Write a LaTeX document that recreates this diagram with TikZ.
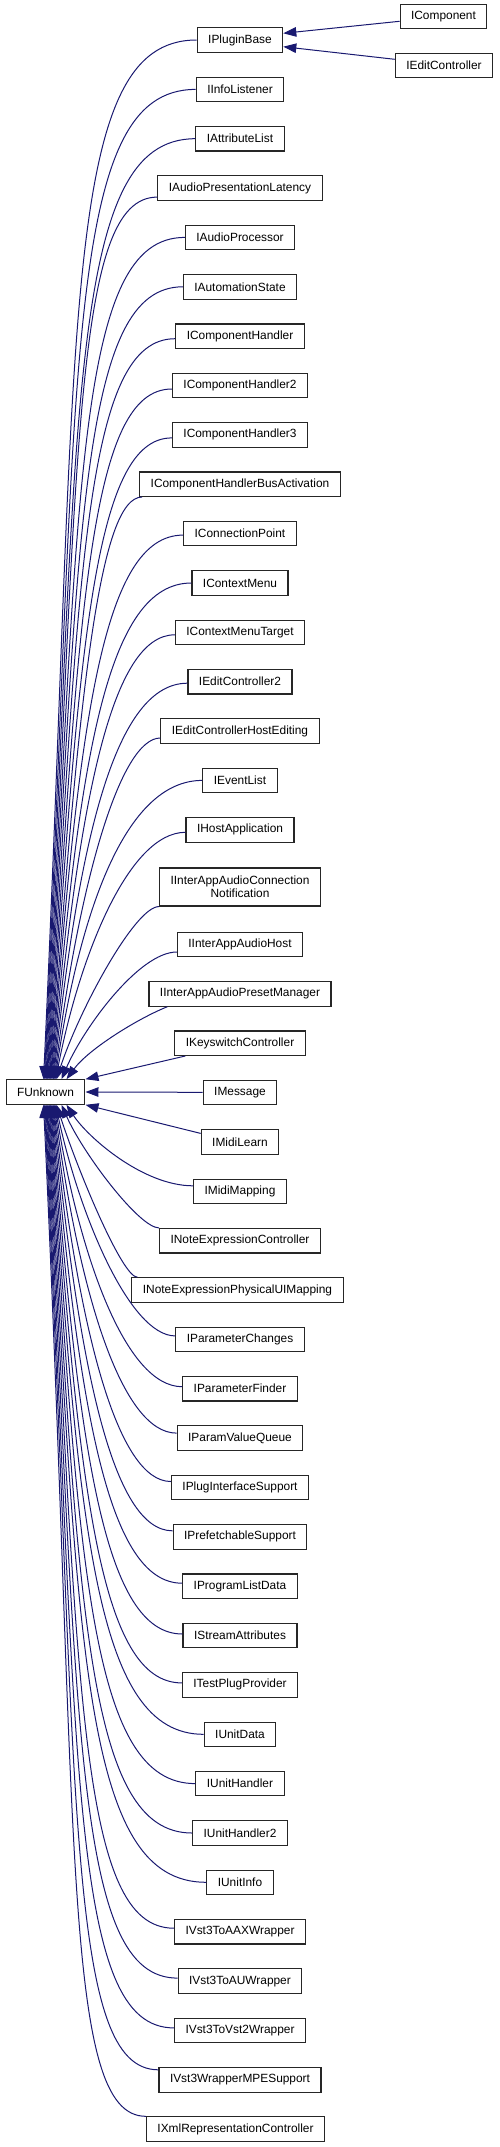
\documentclass[tikz,border=0pt]{standalone}
\usepackage{fontspec}
\setmainfont{Liberation Sans}
\usetikzlibrary{arrows.meta,calc}
\definecolor{mb}{RGB}{25,25,112}
\tikzset{
  cls/.style={draw=black!85, line width=1.1pt, fill=white, inner xsep=11pt, inner ysep=0pt,
    minimum height=24.5pt, font=\fontsize{11.9}{13.3}\selectfont},
  edge/.style={draw=mb, line width=1pt, -{Triangle[length=13pt,width=9.5pt]}},
}
% edge from a node above FUnknown: #1 node, #2 anchor, #3/#4 shift, #5 tip offset on FUnknown top
\newcommand\upedge[5]{%
  \draw[edge] let \p1=($(#1.#2)+(#3,#4)$), \p2=($(FU.north west)+(#5,0)$),
    \n1={abs(\y1-\y2)}, \n2={max(min(150pt-0.087*\n1, \x1-15pt), \x2+10pt)}, \n3={min(0.2*\n1+75, 0.6*\n1)}
    in (\p1) .. controls ({\n2*1pt},\y1) and ({\x2+20+0.015*\n1},{\y1-\n3}) .. (\p2);}
\newcommand\downedge[5]{%
  \draw[edge] let \p1=($(#1.#2)+(#3,#4)$), \p2=($(FU.south west)+(#5,0)$),
    \n1={abs(\y1-\y2)}, \n2={max(min(150pt-0.087*\n1, \x1-15pt), \x2+10pt)}, \n3={min(0.2*\n1+75, 0.6*\n1)}
    in (\p1) .. controls ({\n2*1pt},\y1) and ({\x2+20+0.015*\n1},{\y1+\n3}) .. (\p2);}
\begin{document}
\begin{tikzpicture}[x=1pt,y=-1pt]
\useasboundingbox (0,0) rectangle (499,2147);
\node[cls] (FU) at (45.5,1092) {FUnknown};
\node[cls] (IComponent) at (443.5,16.5) {IComponent};
\node[cls] (IEditController) at (444,65.5) {IEditController};
\foreach \tt/\yy in {IPluginBase/40, IInfoListener/89.4, IAttributeList/138.7,
  IAudioPresentationLatency/188.1, IAudioProcessor/237.4, IAutomationState/286.8,
  IComponentHandler/336.2, IComponentHandler2/385.5, IComponentHandler3/434.9,
  IComponentHandlerBusActivation/484.2, IConnectionPoint/533.6, IContextMenu/583,
  IContextMenuTarget/632.3, IEditController2/681.7, IEditControllerHostEditing/731,
  IEventList/780.4, IHostApplication/829.8, IInterAppAudioHost/944.5,
  IInterAppAudioPresetManager/993.9, IKeyswitchController/1043.2, IMessage/1092.3,
  IMidiLearn/1141.9, IMidiMapping/1191.3, INoteExpressionController/1240.7,
  IParameterChanges/1339.4, IParameterFinder/1388.7, IParamValueQueue/1438.1,
  IPlugInterfaceSupport/1487.5, IPrefetchableSupport/1536.8, IProgramListData/1586.2,
  IStreamAttributes/1635.5, ITestPlugProvider/1684.9, IUnitData/1734.3,
  IUnitHandler/1783.6, IUnitHandler2/1833, IUnitInfo/1882.3, IVst3ToAAXWrapper/1931.7,
  IVst3ToAUWrapper/1981.1, IVst3ToVst2Wrapper/2030.4, IVst3WrapperMPESupport/2079.8}
  \node[cls] (\tt) at (240,\yy) {\tt};
\node[cls, align=center, minimum height=38pt] (IInterAppAudioConnectionNotification) at (240,887)
  {IInterAppAudioConnection\\Notification};
\node[cls] (INoteExpressionPhysicalUIMapping) at (237.5,1290) {INoteExpressionPhysicalUIMapping};
\node[cls] (IXmlRepresentationController) at (235.5,2129.1) {IXmlRepresentationController};

% IPluginBase children
\draw[edge] ($(IComponent.west)+(0,4.8)$) -- ($(IPluginBase.east)+(0,-6.7)$);
\draw[edge] ($(IEditController.west)+(0,-6.2)$) -- ($(IPluginBase.east)+(0,6.7)$);

% edges above FUnknown
\foreach \nm/\an/\ddx/\ddy/\of in {
  IPluginBase/west/0/0/38.0, IInfoListener/west/0/0/38.8, IAttributeList/west/0/0/39.5,
  IAudioPresentationLatency/west/0/9/40.3, IAudioProcessor/west/0/0/41.1,
  IAutomationState/west/0/0/41.8, IComponentHandler/west/0/2.5/42.6,
  IComponentHandler2/west/0/3.5/43.4, IComponentHandler3/west/0/3/44.1,
  IComponentHandlerBusActivation/south west/3/0/44.9, IConnectionPoint/west/0/1.5/45.6,
  IContextMenu/west/0/0/46.4, IContextMenuTarget/west/0/2.5/47.2,
  IEditController2/west/0/1.5/47.9, IEditControllerHostEditing/west/0/7/48.7,
  IEventList/west/0/0/49.5, IHostApplication/west/0/2.5/50.2,
  IInterAppAudioConnectionNotification/south west/0/0/51, IInterAppAudioHost/west/0/7.5/56}
  \upedge{\nm}{\an}{\ddx}{\ddy}{\of};
\draw[edge] ($(IInterAppAudioPresetManager.south west)+(19,0)$) .. controls +(-30,12) and +(22,-30) .. ($(FU.north west)+(61,0)$);
\draw[edge] ($(IKeyswitchController.south west)+(11,0)$) -- (FU.north east);
\draw[edge] (IMessage.west) -- (FU.east);
\draw[edge] ($(IMidiLearn.west)+(0,-8.5)$) -- (FU.south east);

% edges below FUnknown
\foreach \nm/\an/\ddx/\ddy/\of in {
  IMidiMapping/west/0/-5.5/61, INoteExpressionController/north west/0/0/56,
  INoteExpressionPhysicalUIMapping/north west/6/0/51, IParameterChanges/west/0/-3.5/50.2,
  IParameterFinder/west/0/-2/49.5, IParamValueQueue/west/0/-5/48.7,
  IPlugInterfaceSupport/west/0/-6/47.9, IPrefetchableSupport/west/0/-6/47.2,
  IProgramListData/west/0/-3/46.4, IStreamAttributes/west/0/-1.5/45.6,
  ITestPlugProvider/west/0/-2/44.9, IUnitData/west/0/0/44.1, IUnitHandler/west/0/0/43.4,
  IUnitHandler2/west/0/0/42.6, IUnitInfo/west/0/0/41.8, IVst3ToAAXWrapper/west/0/-3.5/41.1,
  IVst3ToAUWrapper/west/0/-3/40.3, IVst3ToVst2Wrapper/west/0/-2.5/39.5,
  IVst3WrapperMPESupport/west/0/-10/38.8, IXmlRepresentationController/north west/0/0/38.0}
  \downedge{\nm}{\an}{\ddx}{\ddy}{\of};
\end{tikzpicture}
\end{document}
